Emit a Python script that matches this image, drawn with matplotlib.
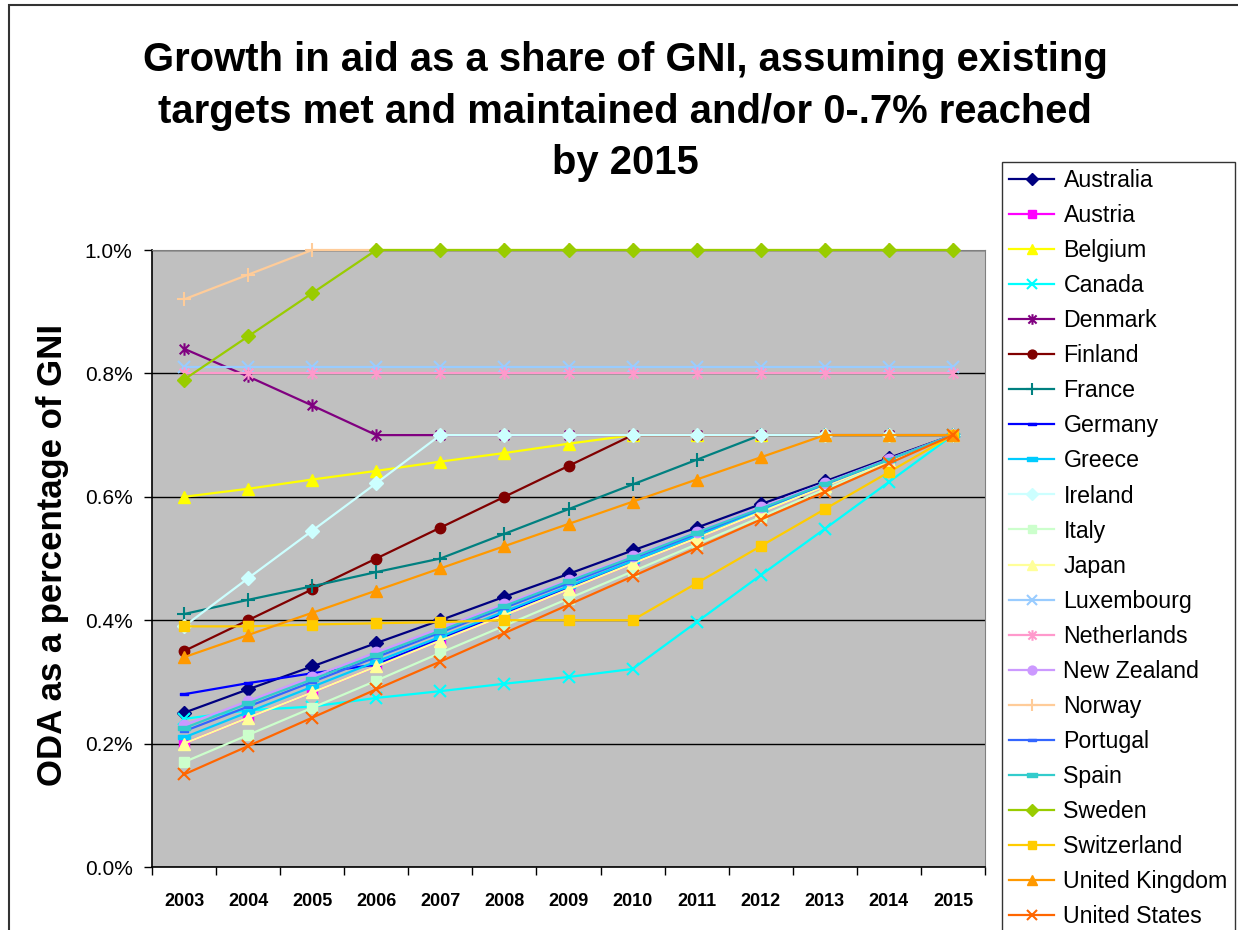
import matplotlib
matplotlib.use("Agg")
import matplotlib.pyplot as plt
from matplotlib.path import Path
from matplotlib.patches import Rectangle
from matplotlib.ticker import FuncFormatter, FixedLocator

plt.rcParams['font.family'] = ['Liberation Sans', 'DejaVu Sans']

years = ['2003', '2004', '2005', '2006', '2007', '2008', '2009', '2010',
         '2011', '2012', '2013', '2014', '2015']

countries = ['Australia', 'Austria', 'Belgium', 'Canada', 'Denmark', 'Finland',
             'France', 'Germany', 'Greece', 'Ireland', 'Italy', 'Japan',
             'Luxembourg', 'Netherlands', 'New Zealand', 'Norway', 'Portugal',
             'Spain', 'Sweden', 'Switzerland', 'United Kingdom', 'United States']

title_lines = ['Growth in aid as a share of GNI, assuming existing',
               'targets met and maintained and/or 0-.7% reached',
               'by 2015']

australia = [0.25, 0.288, 0.325, 0.363, 0.40, 0.438, 0.475, 0.513, 0.55, 0.588, 0.625, 0.663, 0.70]
austria = [0.20, 0.242, 0.283, 0.325, 0.367, 0.408, 0.45, 0.492, 0.533, 0.575, 0.617, 0.658, 0.70]
belgium = [0.60, 0.613, 0.628, 0.642, 0.657, 0.671, 0.686, 0.70, 0.70, 0.70, 0.70, 0.70, 0.70]
canada = [0.24, 0.254, 0.26, 0.274, 0.285, 0.297, 0.308, 0.321, 0.397, 0.473, 0.548, 0.624, 0.70]
denmark = [0.84, 0.795, 0.748, 0.70, 0.70, 0.70, 0.70, 0.70, 0.70, 0.70, 0.70, 0.70, 0.70]
finland = [0.35, 0.40, 0.45, 0.50, 0.55, 0.60, 0.65, 0.70, 0.70, 0.70, 0.70, 0.70, 0.70]
france = [0.41, 0.433, 0.455, 0.478, 0.50, 0.54, 0.58, 0.62, 0.66, 0.70, 0.70, 0.70, 0.70]
germany = [0.28, 0.298, 0.314, 0.328, 0.37, 0.412, 0.453, 0.494, 0.535, 0.577, 0.618, 0.659, 0.70]
greece = [0.21, 0.251, 0.292, 0.333, 0.373, 0.414, 0.455, 0.496, 0.537, 0.578, 0.618, 0.659, 0.70]
ireland = [0.39, 0.468, 0.545, 0.622, 0.70, 0.70, 0.70, 0.70, 0.70, 0.70, 0.70, 0.70, 0.70]
italy = [0.17, 0.214, 0.258, 0.302, 0.347, 0.391, 0.435, 0.479, 0.523, 0.567, 0.612, 0.656, 0.70]
japan = [0.20, 0.242, 0.283, 0.325, 0.367, 0.408, 0.45, 0.492, 0.533, 0.575, 0.617, 0.658, 0.70]
luxembourg = [0.81, 0.81, 0.81, 0.81, 0.81, 0.81, 0.81, 0.81, 0.81, 0.81, 0.81, 0.81, 0.81]
netherlands = [0.80, 0.80, 0.80, 0.80, 0.80, 0.80, 0.80, 0.80, 0.80, 0.80, 0.80, 0.80, 0.80]
new_zealand = [0.23, 0.269, 0.308, 0.348, 0.387, 0.426, 0.465, 0.504, 0.543, 0.583, 0.622, 0.661, 0.70]
norway = [0.92, 0.96, 1.00, 1.00, 1.00, 1.00, 1.00, 1.00, 1.00, 1.00, 1.00, 1.00, 1.00]
portugal = [0.22, 0.26, 0.30, 0.34, 0.38, 0.42, 0.46, 0.50, 0.54, 0.58, 0.62, 0.66, 0.70]
spain = [0.225, 0.265, 0.304, 0.344, 0.383, 0.423, 0.463, 0.502, 0.542, 0.581, 0.621, 0.66, 0.70]
sweden = [0.79, 0.86, 0.93, 1.00, 1.00, 1.00, 1.00, 1.00, 1.00, 1.00, 1.00, 1.00, 1.00]
switzerland = [0.39, 0.39, 0.393, 0.395, 0.397, 0.40, 0.40, 0.40, 0.46, 0.52, 0.58, 0.64, 0.70]
united_kingdom = [0.34, 0.376, 0.412, 0.448, 0.484, 0.52, 0.556, 0.592, 0.628, 0.664, 0.70, 0.70, 0.70]
united_states = [0.15, 0.196, 0.242, 0.288, 0.333, 0.379, 0.425, 0.471, 0.517, 0.563, 0.608, 0.654, 0.70]

series = [australia, austria, belgium, canada, denmark, finland, france, germany,
          greece, ireland, italy, japan, luxembourg, netherlands, new_zealand,
          norway, portugal, spain, sweden, switzerland, united_kingdom, united_states]

colors = ['#000080', '#FF00FF', '#FFFF00', '#00FFFF', '#800080', '#800000',
          '#008080', '#0000FF', '#00CCFF', '#CCFFFF', '#CCFFCC', '#FFFF99',
          '#99CCFF', '#FF99CC', '#CC99FF', '#FFCC99', '#3366FF', '#33CCCC',
          '#99CC00', '#FFCC00', '#FF9900', '#FF6600']

asterisk = Path([(-1, -1), (1, 1), (-1, 1), (1, -1), (0, -1.3), (0, 1.3)],
                [Path.MOVETO, Path.LINETO, Path.MOVETO, Path.LINETO, Path.MOVETO, Path.LINETO])
bar = Path([(-1, -0.35), (1, -0.35), (1, 0.35), (-1, 0.35), (-1, -0.35)],
           [Path.MOVETO, Path.LINETO, Path.LINETO, Path.LINETO, Path.CLOSEPOLY])

# marker, size, edge width
mstyle = {
    'Australia': ('D', 7, 1), 'Austria': ('s', 6.5, 1), 'Belgium': ('^', 8, 1),
    'Canada': ('x', 8, 1.5), 'Denmark': (asterisk, 9, 1.5), 'Finland': ('o', 7.5, 1),
    'France': ('+', 10, 1.5), 'Germany': (bar, 6, 1), 'Greece': (bar, 9, 1),
    'Ireland': ('D', 7, 1), 'Italy': ('s', 6.5, 1), 'Japan': ('^', 8, 1),
    'Luxembourg': ('x', 8, 1.5), 'Netherlands': (asterisk, 9, 1.5), 'New Zealand': ('o', 7.5, 1),
    'Norway': ('+', 10, 1.5), 'Portugal': (bar, 6, 1), 'Spain': (bar, 9, 1),
    'Sweden': ('D', 7, 1), 'Switzerland': ('s', 6.5, 1), 'United Kingdom': ('^', 8, 1),
    'United States': ('x', 8, 1.5),
}

W, H = 1238, 930
fig = plt.figure(figsize=(W / 100, H / 100), dpi=100)
fig.patch.set_facecolor('white')

# outer chart border
fig.patches.append(Rectangle((9 / W, -0.01), 1.02, 1 - 5 / H + 0.01, transform=fig.transFigure,
                             fill=False, edgecolor='#333333', linewidth=1.5, zorder=0))

ax = fig.add_axes([152 / W, 1 - 867 / H, (985 - 152) / W, (867 - 250) / H])
ax.set_facecolor('#C0C0C0')

x = list(range(len(years)))
handles = []
for name, vals, col in zip(countries, series, colors):
    mk, ms, mew = mstyle[name]
    h, = ax.plot(x, vals, color=col, lw=1.6, marker=mk, markersize=ms,
                 markerfacecolor=col, markeredgecolor=col, markeredgewidth=mew,
                 label=name, clip_on=False, zorder=3)
    handles.append(h)

ax.set_xlim(-0.5, len(years) - 0.5)
ax.set_ylim(0, 1.0)
ax.yaxis.set_major_locator(FixedLocator([0, 0.2, 0.4, 0.6, 0.8, 1.0]))
ax.yaxis.set_major_formatter(FuncFormatter(lambda v, p: f"{v:.1f}%"))
ax.grid(axis='y', color='black', lw=1.0, zorder=1)
ax.set_axisbelow(True)

ax.xaxis.set_major_locator(FixedLocator([i - 0.5 for i in range(len(years) + 1)]))
ax.xaxis.set_major_formatter(FuncFormatter(lambda v, p: ''))
ax.xaxis.set_minor_locator(FixedLocator(x))
ax.set_xticklabels(years, minor=True)
ax.tick_params(axis='x', which='major', length=6, width=1, color='black', direction='out')
ax.tick_params(axis='x', which='minor', length=0, pad=19, labelsize=13)
for lab in ax.get_xticklabels(minor=True):
    lab.set_fontweight('bold')
ax.tick_params(axis='y', length=6, width=1, direction='out', labelsize=15, pad=8)

for s in ['top', 'right']:
    ax.spines[s].set_color('#808080')
for s in ['left', 'bottom']:
    ax.spines[s].set_color('black')
    ax.spines[s].set_linewidth(1.2)

ax.set_ylabel('ODA as a percentage of GNI', fontsize=25, fontweight='bold')
ax.yaxis.set_label_coords(-0.1, 0.505)

for line, ypx in zip(title_lines, [60, 112, 163]):
    fig.text(625 / W, 1 - ypx / H, line, ha='center', va='center',
             fontsize=28.8, fontweight='bold')

leg = fig.legend(handles=handles, loc='upper left',
                 bbox_to_anchor=(1002 / W, 1 - 162 / H), borderaxespad=0,
                 fontsize=16.7, frameon=True, fancybox=False, edgecolor='black',
                 handlelength=1.95, handletextpad=0.4, labelspacing=0.52,
                 borderpad=0.3, markerscale=0.85)
leg.get_frame().set_linewidth(1.0)
for t in leg.get_texts():
    t.set_color('black')

fig.savefig('out.png', dpi=100, facecolor='white')
